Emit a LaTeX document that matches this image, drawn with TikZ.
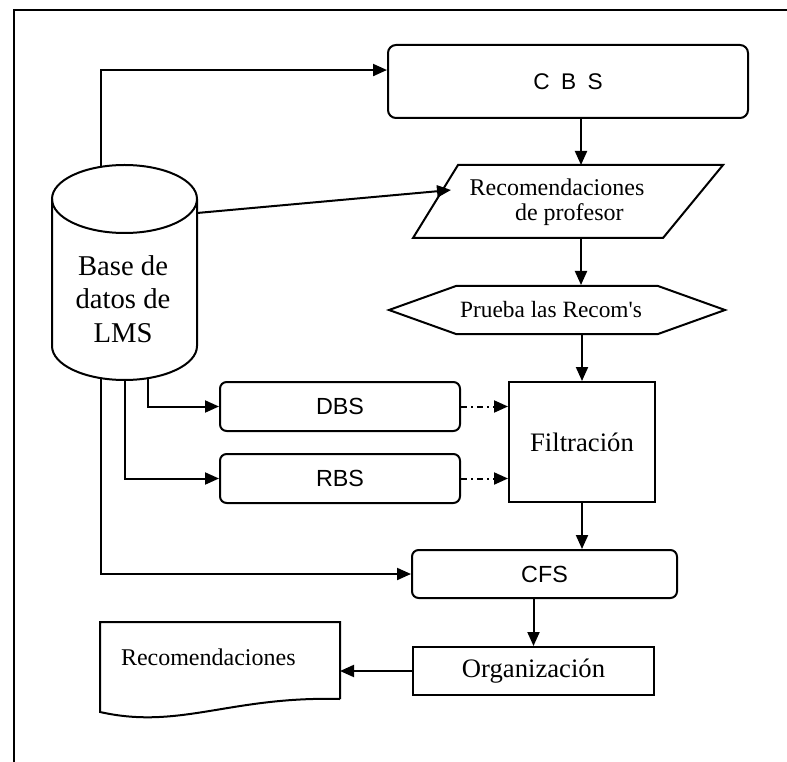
\documentclass[tikz,border=0pt]{standalone}
\usepackage{fontspec}
\setmainfont{Liberation Serif}
\newfontfamily\arialish{Liberation Sans}
\usetikzlibrary{arrows.meta}
% straight apostrophe, bypassing the tex-text mapping
\newcommand{\straightquote}{\XeTeXglyph\XeTeXcharglyph"0027\relax}
\begin{document}
\begin{tikzpicture}[x=0.75pt,y=-0.75pt,
  line width=1.5pt,
  arr/.style={-{Triangle[length=10.5pt,width=9pt]}},
  dasharr/.style={arr, dash pattern=on 4.5pt off 3pt on 1.5pt off 3pt},
  rbox/.style={draw, rounded corners=5pt, inner sep=0pt},
  pbox/.style={draw, inner sep=0pt},
  lbl/.style={inner sep=0pt},
  serif/.style={font=\fontsize{18}{19}\selectfont},
  sans/.style={font=\arialish\fontsize{17.5}{20}\selectfont},
]
\useasboundingbox (0,0) rectangle (787,762);

% outer frame (top and left edges)
\draw (14,762) -- (14,10) -- (787,10);

% database cylinder
\draw (52,199) -- (52,346) arc[start angle=180, end angle=0, x radius=72.5, y radius=34] -- (197,199);
\draw (124.5,199) ellipse[x radius=72.5, y radius=34];
\node[lbl, align=center, font=\fontsize{21.5}{25}\selectfont] (cyl) at (123,299) {Base de\\datos de\\LMS};
\coordinate (cyltop) at (101,167);
\coordinate (cylright) at (197,213);
\coordinate (cb1) at (101,378);
\coordinate (cb2) at (125,380);
\coordinate (cb3) at (148,378);

% CBS
\node[rbox, rounded corners=6pt, minimum width=270pt, minimum height=54.75pt, font=\arialish\fontsize{17}{20}\selectfont] (cbs) at (568,81.5) {C\enspace B\enspace S};

% parallelogram: teacher recommendations
\draw (458,165) -- (723,165) -- (663,238) -- (413,238) -- cycle;
\node[lbl, serif, align=left] (rp) at (557,202) {Recomendaciones\\\hspace*{34pt}de profesor};
\coordinate (rptop) at (581,165);
\coordinate (rpbot) at (581,238);
\coordinate (rpleft) at (451,190);

% hexagon: test the recommendations
\draw (389,310) -- (456,286) -- (658,286) -- (725,310) -- (658,334) -- (456,334) -- cycle;
\node[lbl, font=\fontsize{17.5}{19}\selectfont, minimum height=36pt] (pr) at (551,310) {Prueba las Recom\straightquote s};

% DBS / RBS / filtering
\node[rbox, minimum width=180pt, minimum height=36.75pt, sans] (dbs) at (340,406.5) {DBS};
\node[rbox, minimum width=180pt, minimum height=36.75pt, sans] (rbs) at (340,478.5) {RBS};
\node[pbox, minimum width=109.5pt, minimum height=90pt, font=\fontsize{20}{22}\selectfont] (fi) at (582,442) {Filtración};

% CFS and organisation
\node[rbox, minimum width=198.75pt, minimum height=36pt, sans] (cfs) at (544.5,574) {CFS};
\node[pbox, minimum width=180.75pt, minimum height=36pt, font=\fontsize{20}{22}\selectfont] (org) at (533.5,671) {Organización};

% document: final recommendations
\draw (340,699) -- (340,622) -- (100,622) -- (100,712)
  .. controls (180,730) and (230,696) .. (340,699);
\node[lbl, serif, anchor=west] (doc) at (120,657) {Recomendaciones};
\coordinate (docright) at (340,671);

% connectors
\draw[arr] (cyltop) |- ([yshift=8.6pt]cbs.west);
\draw[arr] (cbs.south -| rptop) -- (rptop);
\draw[arr] (cylright) -- (rpleft);
\draw[arr] (rpbot) -- (rpbot |- pr.north);
\draw[arr] (pr.south -| fi.north) -- (fi.north);
\draw[arr] (cb3) |- (dbs.west);
\draw[arr] (cb2) |- (rbs.west);
\draw[dasharr] (dbs.east) -- (dbs.east -| fi.west);
\draw[dasharr] (rbs.east) -- (rbs.east -| fi.west);
\draw[arr] (fi.south) -- (fi.south |- cfs.north);
\draw[arr] (cb1) |- (cfs.west);
\draw[arr] (cfs.south -| org.north) -- (org.north);
\draw[arr] (org.west) -- (docright);
\end{tikzpicture}
\end{document}
